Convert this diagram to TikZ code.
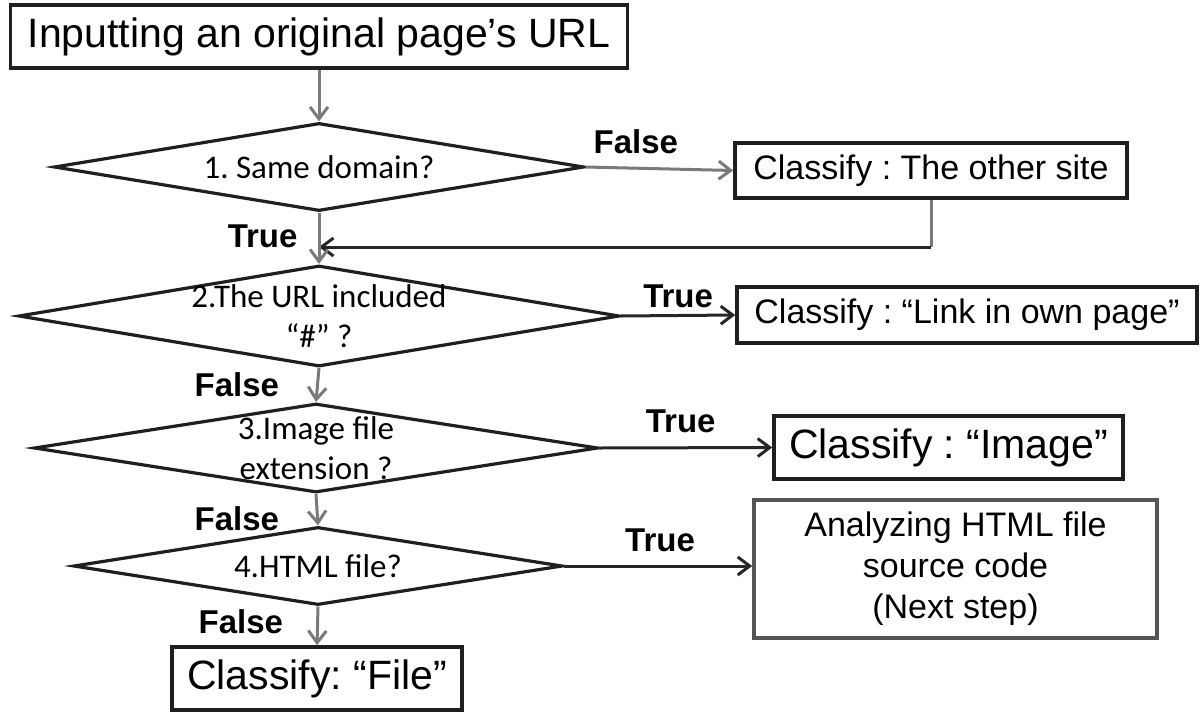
\documentclass[tikz,border=0pt]{standalone}
\usepackage{fontspec}
\setmainfont{Liberation Sans}
\newfontfamily\calfont{Carlito}
\usetikzlibrary{shapes.geometric,arrows.meta}
\definecolor{linegray}{HTML}{7A7A7A}
\definecolor{linedark}{HTML}{262626}
\definecolor{boxgray}{HTML}{555555}
\frenchspacing

\begin{document}
\begin{tikzpicture}[
        x=1pt, y=-1pt,
        every node/.style={font=\fontsize{34}{41}\selectfont},
        big/.style={font=\fontsize{41}{49}\selectfont},
        box/.style={draw=black!88, line width=3.6pt, inner sep=0pt},
        decision/.style={draw=black!88, line width=3.2pt, diamond, inner sep=0pt},
        dtext/.style={font=\calfont\fontsize{33}{40}\selectfont, align=center},
        lbl/.style={font=\bfseries\fontsize{33}{40}\selectfont, inner sep=0pt},
        garrow/.style={draw=linegray, line width=3pt, -{Straight Barb[length=12pt,width=18pt]}},
        darrow/.style={draw=linedark, line width=3pt, -{Straight Barb[length=12pt,width=18pt]}},
        gline/.style={draw=linegray, line width=3pt}
    ]
    \useasboundingbox (0,0) rectangle (1200,726);

    % start and decisions
    \node[box, big, minimum width=617pt, minimum height=63pt] (start) at (319,36.5)
        {Inputting an original page’s URL};
    \node[decision, minimum width=530pt, minimum height=88pt,
        label={[dtext]center:1. Same domain?}] (d1) at (319,167) {};
    \node[decision, minimum width=601pt, minimum height=101pt,
        label={[dtext]center:{2.The URL included\\“\#” ?}}] (d2) at (319,316) {};
    \node[decision, minimum width=564pt, minimum height=89pt,
        label={[dtext]center:{3.Image file\\extension ?}}] (d3) at (316,448) {};
    \node[decision, minimum width=489pt, minimum height=78pt,
        label={[dtext]center:4.HTML file?}] (d4) at (318,566) {};

    % results
    \node[box, minimum width=392pt, minimum height=55pt] (other) at (931,170.5)
        {Classify : The other site};
    \node[box, minimum width=460pt, minimum height=56pt] (link) at (967,315)
        {Classify : “Link in own page”};
    \node[box, big, minimum width=349pt, minimum height=63pt] (image) at (948.5,447.5)
        {Classify : “Image”};
    \node[box, draw=boxgray, align=center, minimum width=403pt, minimum height=138pt] (html) at (955.5,569)
        {Analyzing HTML file\\source code\\(Next step)};
    \node[box, big, minimum width=290pt, minimum height=63pt] (file) at (317,678.5)
        {Classify: “File”};

    \coordinate (join) at (319,247);

    % connectors
    \draw[garrow] (start.south) -- (d1.north);
    \draw[garrow] (d1.east) -- node[lbl, above=13pt, pos=0.34] (f1) {False} (other.west);
    \draw[gline] (other.south) -- (other.south |- join);
    \draw[darrow] (other.south |- join) -- (join);
    \draw[garrow] (d1.south) -- node[lbl, left=20pt, pos=0.46] (t1) {True} (d2.north);
    \draw[darrow] (d2.east) -- node[lbl, above=6pt, pos=0.5] (t2) {True} (link.west);
    \draw[garrow] (d2.south) -- node[lbl, left=37pt, pos=0.5] (f2) {False} (d3.north);
    \draw[darrow] (d3.east) -- node[lbl, above=13pt, pos=0.47] (t3) {True} (image.west);
    \draw[garrow] (d3.south) -- node[lbl, left=37pt, pos=0.8] (f3) {False} (d4.north);
    \draw[darrow] (d4.east) -- node[lbl, above=13pt, pos=0.51] (t4) {True} (d4.east -| html.west);
    \draw[garrow] (d4.south) -- node[lbl, left=33pt, pos=0.4] (f4) {False} (file.north);
\end{tikzpicture}
\end{document}
